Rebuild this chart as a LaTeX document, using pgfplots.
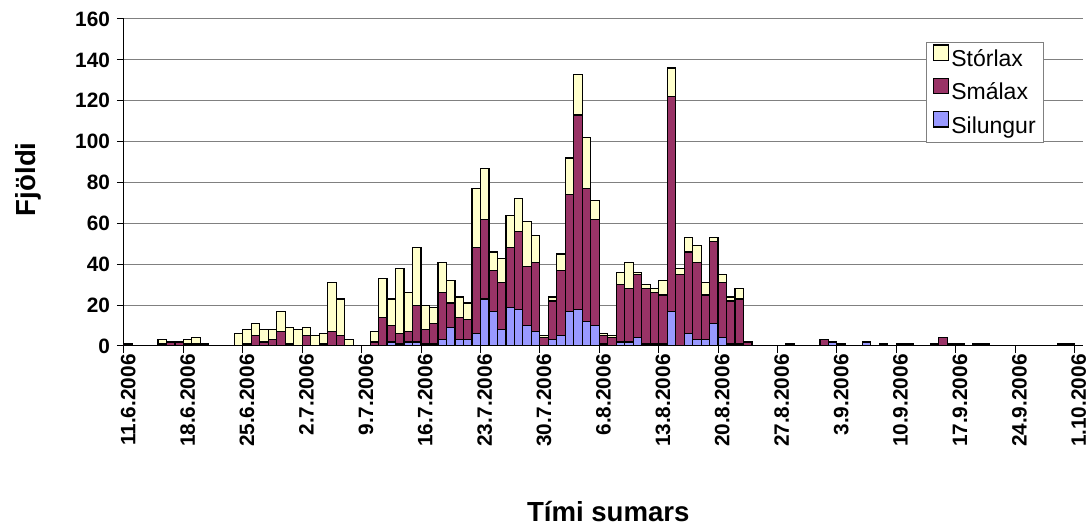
\documentclass[border=0pt]{standalone}
\usepackage{fontspec}
\setmainfont{Liberation Sans}
\usepackage{pgfplots}
\pgfplotsset{compat=1.18}
\usepackage{pgfplotstable}

\definecolor{storlax}{HTML}{FFFFCC}
\definecolor{smalax}{HTML}{993366}
\definecolor{silungur}{HTML}{9999FF}
\definecolor{gridgray}{HTML}{808080}

% dagur = dagar frá 11.6.2006
\pgfplotstableread{
dag sil sma sto
0   0   1   0
4   0   1   2
5   0   2   0
6   0   2   0
7   0   1   2
8   0   1   3
9   0   1   0
13  0   0   6
14  0   1   7
15  0   5   6
16  0   2   6
17  0   3   5
18  0   7   10
19  1   0   8
20  0   0   8
21  0   5   4
22  0   0   5
23  0   1   5
24  0   7   24
25  0   5   18
26  0   0   3
29  0   2   5
30  0   14  19
31  2   8   13
32  1   5   32
33  2   5   19
34  2   18  28
35  1   7   12
36  1   10  8
37  3   23  15
38  9   12  11
39  3   11  10
40  3   10  8
41  6   42  29
42  23  39  25
43  17  20  9
44  8   23  12
45  19  29  16
46  18  38  16
47  10  29  22
48  7   34  13
49  0   4   1
50  3   19  2
51  5   32  8
52  17  57  18
53  18  95  20
54  12  65  25
55  10  52  9
56  1   4   1
57  0   4   1
58  2   28  6
59  2   26  13
60  4   31  1
61  1   27  2
62  1   25  2
63  1   24  7
64  17  105 14
65  0   35  3
66  6   40  7
67  3   38  8
68  3   22  6
69  11  40  2
70  4   27  4
71  1   21  2
72  1   22  5
73  0   2   0
78  0   1   0
82  0   3   0
83  2   0   0
84  0   1   0
87  2   0   0
89  0   1   0
91  0   1   0
92  0   1   0
95  0   1   0
96  0   4   0
97  0   1   0
98  0   1   0
100 0   1   0
101 0   1   0
110 0   1   0
111 0   1   0
}\veidi

\begin{document}
\begin{tikzpicture}
\begin{axis}[
    at={(0,0)}, anchor=south west,
    scale only axis, width=479.5pt, height=163.5pt,
    ybar stacked, bar width=1,
    xmin=-0.5, xmax=112.5,
    ymin=0, ymax=160,
    ytick={0,20,...,160},
    xtick={-0.5,6.5,...,111.5}, xticklabels={},
    extra x ticks={0,7,...,112},
    extra x tick labels={11.6.2006,18.6.2006,25.6.2006,2.7.2006,9.7.2006,16.7.2006,23.7.2006,30.7.2006,6.8.2006,13.8.2006,20.8.2006,27.8.2006,3.9.2006,10.9.2006,17.9.2006,24.9.2006,1.10.2006},
    extra x tick style={major tick length=0pt, grid=none},
    xticklabel style={rotate=90, anchor=east, inner sep=1pt, xshift=-3pt, font=\bfseries\fontsize{10.4}{12}\selectfont},
    yticklabel style={font=\bfseries\fontsize{10.4}{12}\selectfont},
    /pgf/number format/assume math mode=true,
    ymajorgrids, grid style={gridgray, line width=0.5pt},
    axis x line=bottom, axis y line=left,
    axis line style={-, black, line width=0.5pt},
    tick align=outside, major tick length=3.5pt,
    tick style={black, line width=0.5pt},
    xlabel={Tími sumars}, ylabel={Fjöldi},
    every axis x label/.style={at={(axis description cs:0.505,-0.505)}, anchor=center, font=\bfseries\fontsize{13.8}{16}\selectfont},
    every axis y label/.style={at={(axis description cs:-0.100,0.51)}, rotate=90, anchor=center, font=\bfseries\fontsize{13.8}{16}\selectfont},
    reverse legend,
    legend image code/.code={\draw[#1, line width=0.6pt] (0pt,0pt) rectangle (7.8pt,7.8pt);},
    legend style={at={(0.8363,0.9297)}, anchor=north west, draw=gridgray, line width=0.5pt,
        font=\fontsize{11.5}{13}\selectfont, cells={anchor=west},
        nodes={inner sep=1pt, text height=8.5pt, text depth=2.5pt},
        row sep=2pt, inner xsep=3pt, inner ysep=1pt},
]
\addplot[fill=silungur, draw=black, line width=0.6pt] table[x=dag, y=sil] {\veidi};
\addlegendentry{Silungur}
\addplot[fill=smalax, draw=black, line width=0.6pt] table[x=dag, y=sma] {\veidi};
\addlegendentry{Smálax}
\addplot[fill=storlax, draw=black, line width=0.6pt] table[x=dag, y=sto] {\veidi};
\addlegendentry{Stórlax}
\end{axis}
\pgfresetboundingbox
\path (-62pt,-91.5pt) rectangle (483pt,173pt);
\end{tikzpicture}
\end{document}
